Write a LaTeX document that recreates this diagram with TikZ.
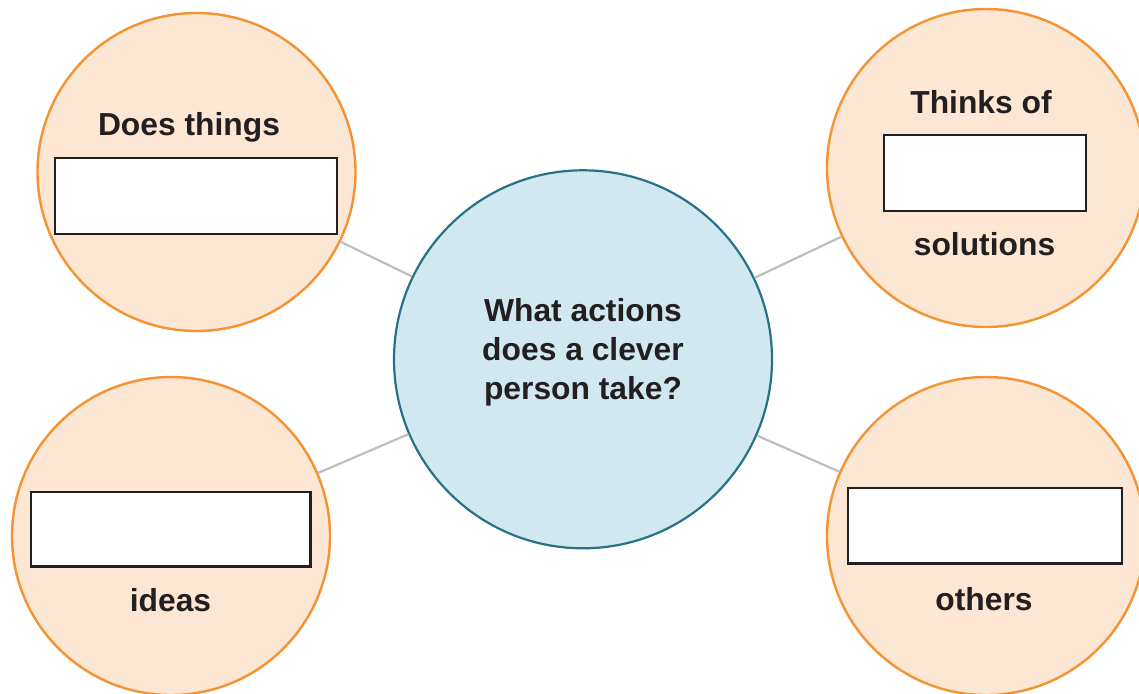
\documentclass[tikz,border=0pt]{standalone}
\usepackage{fontspec}
\setmainfont{Liberation Sans}
\definecolor{orangeline}{RGB}{245,146,50}
\definecolor{orangefill}{RGB}{252,231,212}
\definecolor{tealline}{RGB}{38,115,135}
\definecolor{tealfill}{RGB}{209,232,240}
\definecolor{linkgray}{RGB}{190,190,190}
\definecolor{ink}{RGB}{35,31,32}
\tikzset{
  outer/.style={circle, draw=orangeline, fill=orangefill, line width=2.4pt, minimum size=318pt, inner sep=0pt},
  hub/.style={circle, draw=tealline, fill=tealfill, line width=2.2pt, minimum size=378pt, inner sep=0pt},
  link/.style={draw=linkgray, line width=2.2pt},
  blank/.style={draw=ink, fill=white, line width=2.4pt, inner sep=0pt},
  lbl/.style={anchor=base, text=ink, font=\fontsize{31.8}{38.7}\selectfont\bfseries, inner sep=0pt},
}
\begin{document}
\begin{tikzpicture}[x=1pt, y=-1pt]
\useasboundingbox (0,0) rectangle (1139,693);
\clip (0,0) rectangle (1139,693);
% circles
\node[hub] (c) at (583,359.3) {};
\node[outer] (tl) at (196.5,172) {};
\node[outer] (tr) at (986,168) {};
\node[outer] (bl) at (171,536) {};
\node[outer] (br) at (986,536) {};
% connectors
\draw[link] (c) -- (tl);
\draw[link] (c) -- (tr);
\draw[link] (c) -- (bl);
\draw[link] (c) -- (br);
% boxes
\draw[blank] (55,158) rectangle (337,234);
\draw[blank] (884,135) rectangle (1086,211);
\draw[blank] (31,492) rectangle (310.5,566.5);
\draw[blank] (848,488) rectangle (1122,563.5);
% labels
\node[lbl] (t1) at (189,135) {Does things};
\node[lbl] (t2) at (981,113) {Thinks of};
\node[lbl] (t3) at (984.5,255) {solutions};
\node[lbl] (t4) at (170.5,611.5) {ideas};
\node[lbl] (t5) at (984,610) {others};
\node[lbl, align=center] (q) at (583,399.3) {What actions\\does a clever\\person take?};
\end{tikzpicture}
\end{document}
